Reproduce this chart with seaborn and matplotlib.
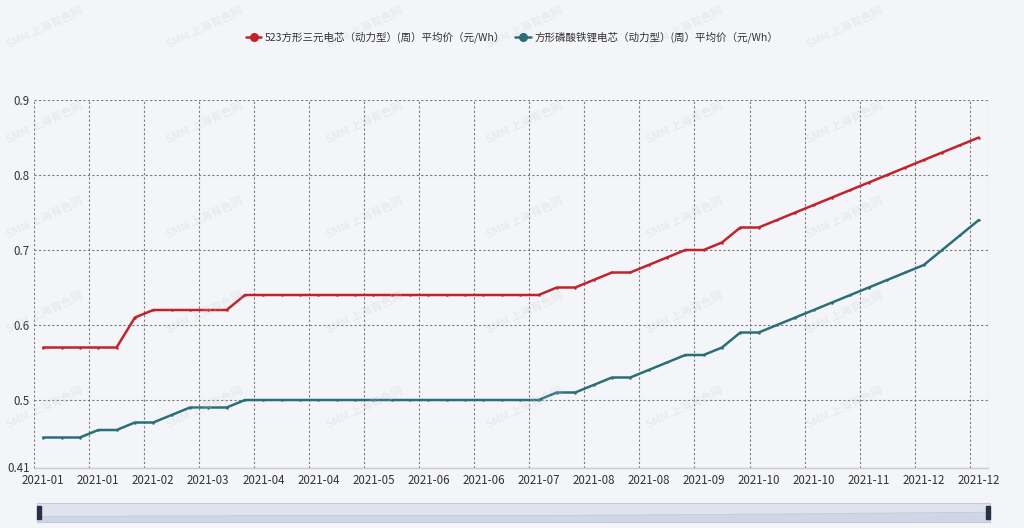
import matplotlib
matplotlib.use('Agg')
import pandas as pd
import seaborn as sns
from matplotlib import pyplot as plt
from matplotlib.lines import Line2D
from matplotlib.patches import Rectangle

# weekly prices, 52 weeks of 2021
ncm_523 = [0.57, 0.57, 0.57, 0.57, 0.57, 0.61, 0.62, 0.62, 0.62, 0.62,
           0.62, 0.64, 0.64, 0.64, 0.64, 0.64, 0.64, 0.64, 0.64, 0.64,
           0.64, 0.64, 0.64, 0.64, 0.64, 0.64, 0.64, 0.64, 0.65, 0.65,
           0.66, 0.67, 0.67, 0.68, 0.69, 0.70, 0.70, 0.71, 0.73, 0.73,
           0.74, 0.75, 0.76, 0.77, 0.78, 0.79, 0.80, 0.81, 0.82, 0.83,
           0.84, 0.85]
lfp = [0.45, 0.45, 0.45, 0.46, 0.46, 0.47, 0.47, 0.48, 0.49, 0.49,
       0.49, 0.50, 0.50, 0.50, 0.50, 0.50, 0.50, 0.50, 0.50, 0.50,
       0.50, 0.50, 0.50, 0.50, 0.50, 0.50, 0.50, 0.50, 0.51, 0.51,
       0.52, 0.53, 0.53, 0.54, 0.55, 0.56, 0.56, 0.57, 0.59, 0.59,
       0.60, 0.61, 0.62, 0.63, 0.64, 0.65, 0.66, 0.67, 0.68, 0.70,
       0.72, 0.74]
# labels shown on every third week
tick_labels = ['2021-01', '2021-01', '2021-02', '2021-03', '2021-04', '2021-04',
               '2021-05', '2021-06', '2021-06', '2021-07', '2021-08', '2021-08',
               '2021-09', '2021-10', '2021-10', '2021-11', '2021-12', '2021-12']
series_names = ['523方形三元电芯（动力型）(周）平均价（元/Wh）',
                '方形磷酸铁锂电芯（动力型）(周）平均价（元/Wh）']

RED = '#c1232b'
TEAL = '#2a6f76'
BG = '#f4f5f9'

df = pd.concat([
    pd.DataFrame({'week': range(len(ncm_523)), 'price': ncm_523, 'series': series_names[0]}),
    pd.DataFrame({'week': range(len(lfp)), 'price': lfp, 'series': series_names[1]}),
])

sns.set_style('white')
plt.rcParams['font.family'] = ['Noto Sans CJK SC', 'DejaVu Sans']

fig = plt.figure(figsize=(10.24, 5.28), dpi=100)
fig.patch.set_facecolor(BG)

ax = fig.add_axes([34 / 1024, 1 - 467.5 / 528, 954 / 1024, 367.5 / 528])
ax.set_facecolor(BG)
sns.lineplot(data=df, x='week', y='price', hue='series', palette=[RED, TEAL],
             marker='o', markersize=1.8, markeredgewidth=0, linewidth=1.8,
             legend=False, ax=ax, zorder=3)

n = len(ncm_523)
ax.set_xlim(-0.5, n - 0.5)
ax.set_ylim(0.41, 0.9)
ax.set_yticks([0.41, 0.5, 0.6, 0.7, 0.8, 0.9])
ax.set_yticklabels(['0.41', '0.5', '0.6', '0.7', '0.8', '0.9'])
ax.set_xticks(list(range(0, n, 3)))
ax.set_xticklabels(tick_labels)
ax.set_xticks([b - 0.5 for b in range(0, n, 3)] + [n - 0.5], minor=True)
ax.tick_params(axis='both', which='both', length=0, labelsize=8.3, colors='#333333')
ax.tick_params(axis='y', pad=3)
ax.tick_params(axis='x', pad=5)
ax.set_xlabel('')
ax.set_ylabel('')

grid_kw = dict(color='#7a7a7a', linestyle=(0, (2, 2)), linewidth=0.8)
ax.yaxis.grid(True, which='major', **grid_kw)
ax.xaxis.grid(True, which='minor', **grid_kw)
ax.xaxis.grid(False, which='major')
for side in ['left', 'top', 'right']:
    ax.spines[side].set_visible(False)
ax.spines['bottom'].set_color('#cccccc')
ax.spines['bottom'].set_linewidth(1)
ax.spines['bottom'].set_zorder(4)

# legend across the top
handles = [Line2D([0], [0], color=c, lw=1.8, marker='o', markersize=5.5) for c in (RED, TEAL)]
fig.legend(handles, series_names, loc='center', bbox_to_anchor=(0.5, 1 - 37 / 528),
           ncol=2, frameon=False, fontsize=7.6, handlelength=1.5, handletextpad=0.35,
           columnspacing=0.9, labelcolor='#333333')

# data zoom slider at the bottom
sl = fig.add_axes([37 / 1024, 6 / 528, 953 / 1024, 19 / 528])
sl.set_facecolor('#dee3ee')
sl.fill_between(range(n), ncm_523, 0, color='#cfd6e6', lw=0.6, edgecolor='#c2cadb')
sl.set_xlim(0, n - 1)
sl.set_ylim(0.2, 1.4)
sl.set_xticks([])
sl.set_yticks([])
for s in sl.spines.values():
    s.set_color('#c4cad6')
sl.add_patch(Rectangle((0.0, 0.15), 0.004, 0.7, transform=sl.transAxes,
                       color='#2a2f45', clip_on=False, zorder=5))
sl.add_patch(Rectangle((0.996, 0.15), 0.004, 0.7, transform=sl.transAxes,
                       color='#2a2f45', clip_on=False, zorder=5))

# faint watermark
for wy in [28, 123, 218, 313, 408]:
    for wx in range(45, 1000, 160):
        fig.text(wx / 1024, 1 - wy / 528, 'SMM 上海有色网', fontsize=8, color='#c8cad0',
                 alpha=0.35, rotation=25, ha='center', va='center', zorder=0)

fig.savefig('out.png', dpi=100, facecolor=BG)
